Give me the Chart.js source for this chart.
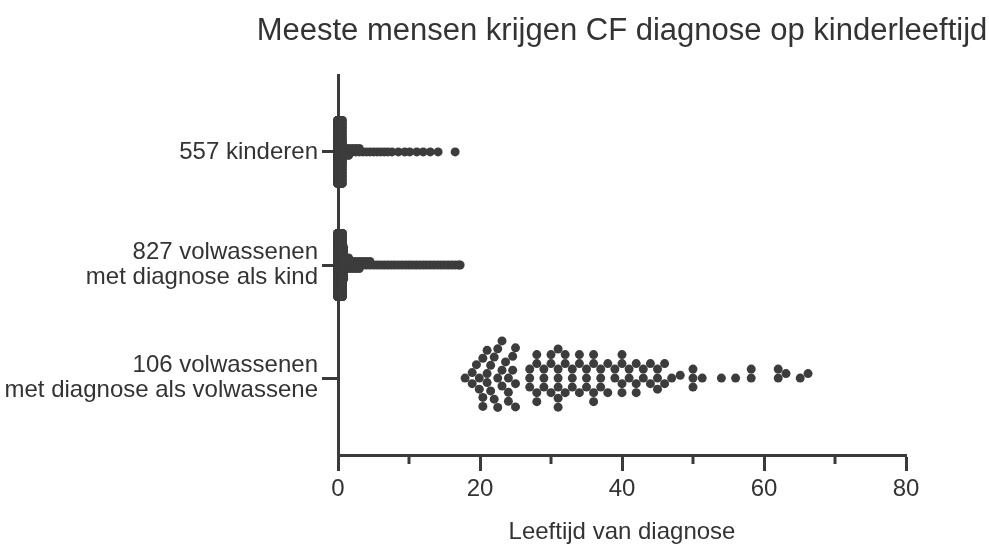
<!DOCTYPE html>
<html>
<head>
<meta charset="utf-8">
<title>Leeftijd van diagnose</title>
<script src="https://cdn.jsdelivr.net/npm/chart.js@4.4.1/dist/chart.umd.min.js"></script>
<style>
  html, body { margin: 0; padding: 0; background: #fff; }
  #wrap { position: relative; width: 989px; height: 544px; }
</style>
</head>
<body>
<div id="wrap"><canvas id="chart"></canvas></div>
<script>
var chartTitle = 'Meeste mensen krijgen CF diagnose op kinderleeftijd';
var xTitle = 'Leeftijd van diagnose';

// groepen, van boven naar beneden
var groupLabels = [
    ['557 kinderen'],
    ['827 volwassenen', 'met diagnose als kind'],
    ['106 volwassenen', 'met diagnose als volwassene']
];

var xMajorTicks = [0, 20, 40, 60, 80];
var xMinorTicks = [10, 30, 50, 70];

// kinderen: leeftijd (jaren) met aantal
var kidAges   = [0, 0.2, 0.4, 0.6, 0.8, 1, 1.5, 2, 2.5, 3, 3.5, 4, 4.5, 5, 5.5, 6, 6.5, 7,
                 7.6, 8.5, 9.4, 10.1, 11.1, 12, 13, 14.1, 16.5];
var kidCounts = [250, 150, 80, 45, 3, 3, 3, 2, 2, 2, 1, 1, 1, 1, 1, 1, 1, 1,
                 1, 1, 1, 1, 1, 1, 1, 1, 1];

// volwassenen met diagnose als kind
var adultKidAges   = [0, 0.2, 0.4, 0.6, 0.8, 1, 1.5, 2, 2.5, 3, 3.5, 4, 4.5,
                      5, 5.5, 6, 6.5, 7, 7.5, 8, 8.5, 9, 9.5, 10, 10.5, 11, 11.5,
                      12, 12.5, 13, 13.5, 14, 14.5, 15, 15.5, 16, 16.5, 17, 17.2];
var adultKidCounts = [340, 210, 130, 88, 10, 4, 4, 3, 3, 3, 2, 2, 2,
                      1, 1, 1, 1, 1, 1, 1, 1, 1, 1, 1, 1, 1, 1,
                      1, 1, 1, 1, 1, 1, 1, 1, 1, 1, 1, 1];

// volwassenen met diagnose als volwassene (106)
var adultAges = [17.9, 18.9, 18.9, 19.5, 19.9, 19.9, 20.4, 20.4, 20.4, 21, 21, 21,
                 21.5, 21.5, 22, 22, 22.5, 22.5, 22.5, 23.1, 23.1, 23.1, 23.6,
                 24, 24, 24, 24.6, 24.6, 25, 25, 25,
                 27, 27, 27, 28, 28, 28, 28, 29, 29, 29, 30, 30, 30,
                 31, 31, 31, 31, 31, 31, 32, 32, 32, 33, 33, 33, 34, 34, 34,
                 35, 35, 35, 36, 36, 36, 36, 37, 37, 37,
                 38, 38, 39, 39, 40, 40, 40, 40, 41, 41, 42, 42, 42, 43, 43,
                 44, 44, 45, 45, 45, 46, 46, 47,
                 48.2, 50, 50, 50, 51.3, 54, 56, 58.2, 58.2, 62, 62, 63.1, 65.1, 66.2];

var ink = '#3a3a3a';
var font = '"Liberation Sans", Arial, Helvetica, sans-serif';

function expand(ages, counts) {
    var out = [];
    ages.forEach(function (a, i) {
        for (var k = 0; k < counts[i]; k++) out.push(a);
    });
    return out;
}

// gestapeld per leeftijd, binnen een maximale hoogte (dichte groepen)
function stackLayout(values, groupY, step, maxPx, pxY) {
    var seen = {};
    return values.map(function (v) {
        var n = seen[v] || 0;
        seen[v] = n + 1;
        var slots = Math.floor(maxPx / step) * 2 + 1;
        var k = n % slots;
        var off = k === 0 ? 0 : Math.ceil(k / 2) * step * (k % 2 ? 1 : -1);
        return { x: v, y: groupY + off / pxY };
    });
}

// beeswarm zonder overlap
function swarmLayout(values, groupY, d, pxX, pxY) {
    var placed = [];
    values.slice().sort(function (a, b) { return a - b; }).forEach(function (v) {
        var x = v * pxX;
        var near = placed.filter(function (p) { return Math.abs(p.x - x) < d; });
        var cands = [0];
        near.forEach(function (p) {
            var dy = Math.sqrt(d * d - (p.x - x) * (p.x - x));
            cands.push(p.y + dy, p.y - dy);
        });
        cands.sort(function (a, b) { return Math.abs(a) - Math.abs(b); });
        var y = cands.find(function (c) {
            return near.every(function (p) {
                return (p.x - x) * (p.x - x) + (p.y - c) * (p.y - c) >= d * d - 0.01;
            });
        });
        placed.push({ x: x, y: y, v: v });
    });
    return placed.map(function (p) { return { x: p.v, y: groupY + p.y / pxY }; });
}

var minorTickPlugin = {
    id: 'minorTicks',
    afterDraw: function (chart) {
        var ctx = chart.ctx, a = chart.chartArea, sx = chart.scales.x;
        ctx.save();
        ctx.strokeStyle = ink;
        ctx.lineWidth = 3;
        xMinorTicks.forEach(function (v) {
            var px = Math.round(sx.getPixelForValue(v));
            ctx.beginPath();
            ctx.moveTo(px, a.bottom);
            ctx.lineTo(px, a.bottom + 9);
            ctx.stroke();
        });
        ctx.font = '31px ' + font;
        ctx.fillStyle = '#333';
        ctx.textAlign = 'center';
        ctx.textBaseline = 'middle';
        ctx.fillText(chartTitle, (a.left + a.right) / 2, 31);
        ctx.restore();
    }
};

var ds = function (data) {
    return {
        data: data,
        pointRadius: 4.5,
        pointHoverRadius: 4.5,
        pointBackgroundColor: '#3c3c3c',
        pointBorderWidth: 0,
        showLine: false,
        clip: false
    };
};

var chart = new Chart(document.getElementById('chart'), {
    type: 'scatter',
    data: { datasets: [ds([]), ds([]), ds([])] },
    options: {
        responsive: true,
        maintainAspectRatio: false,
        animation: false,
        events: [],
        layout: { padding: { top: 75, right: 83, bottom: 0, left: 0 } },
        plugins: { legend: { display: false }, tooltip: { enabled: false } },
        scales: {
            x: {
                type: 'linear',
                min: 0,
                max: 80,
                afterFit: function (s) { s.height = 89; },
                grid: {
                    drawOnChartArea: false,
                    tickLength: 16,
                    tickWidth: 3,
                    tickColor: function (c) {
                        return c.tick && xMajorTicks.indexOf(c.tick.value) >= 0 ? ink : 'rgba(0,0,0,0)';
                    }
                },
                border: { color: ink, width: 3 },
                ticks: {
                    stepSize: 10,
                    autoSkip: false,
                    maxRotation: 0,
                    padding: 4,
                    color: '#333',
                    font: { family: font, size: 24 },
                    callback: function (v) { return xMajorTicks.indexOf(v) >= 0 ? v : ''; }
                },
                title: {
                    display: true,
                    text: xTitle,
                    color: '#333',
                    font: { family: font, size: 24, lineHeight: 1 },
                    padding: { top: 0, bottom: 0 }
                }
            },
            y: {
                type: 'linear',
                min: -0.68,
                max: 2.68,
                afterFit: function (s) { s.width = 338; },
                afterBuildTicks: function (s) {
                    s.ticks = [{ value: 0 }, { value: 1 }, { value: 2 }];
                },
                grid: {
                    drawOnChartArea: false,
                    tickLength: 16,
                    tickWidth: 3,
                    tickColor: ink
                },
                border: { color: ink, width: 3 },
                ticks: {
                    padding: 4,
                    color: '#333',
                    font: { family: font, size: 24, lineHeight: 1.05 },
                    callback: function (v) { return groupLabels[2 - v]; }
                }
            }
        }
    },
    plugins: [minorTickPlugin]
});

// posities pas berekenen als de schalen bekend zijn
var sx = chart.scales.x, sy = chart.scales.y;
var pxX = Math.abs(sx.getPixelForValue(1) - sx.getPixelForValue(0));
var pxY = Math.abs(sy.getPixelForValue(1) - sy.getPixelForValue(0));

chart.data.datasets[0].data = stackLayout(expand(kidAges, kidCounts), 2, 3.5, 33, pxY);
chart.data.datasets[1].data = stackLayout(expand(adultKidAges, adultKidCounts), 1, 3.5, 33, pxY);
chart.data.datasets[2].data = swarmLayout(adultAges, 0, 9, pxX, pxY);
chart.update('none');
</script>
</body>
</html>
